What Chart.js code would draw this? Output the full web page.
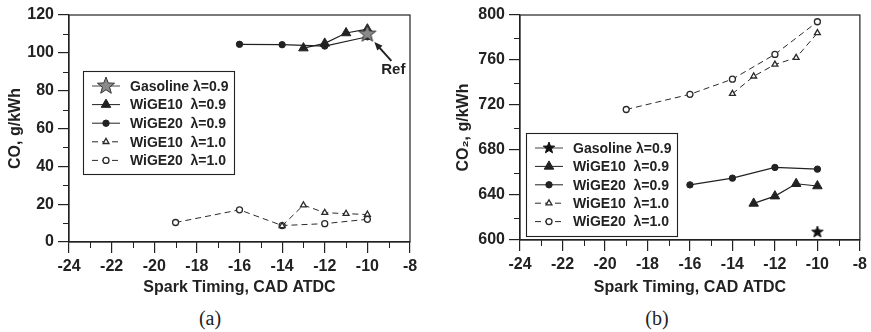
<!DOCTYPE html>
<html>
<head>
<meta charset="utf-8">
<script src="https://cdn.jsdelivr.net/npm/chart.js@4.4.1/dist/chart.umd.min.js"></script>
<style>
  body { margin: 0; background: #fff; width: 871px; height: 332px; position: relative; overflow: hidden; }
  .wrap { position: absolute; top: 0; height: 300px; }
  #wrapA { left: 0; width: 436px; }
  #wrapB { left: 436px; width: 435px; }
  .cap { position: absolute; top: 307px; width: 60px; text-align: center; font: 20px "Liberation Serif", serif; color: #222; }
</style>
</head>
<body>
<div class="wrap" id="wrapA"><canvas id="chartA"></canvas></div>
<div class="wrap" id="wrapB"><canvas id="chartB"></canvas></div>
<div class="cap" style="left:180px">(a)</div>
<div class="cap" style="left:627px">(b)</div>
<script>
// series names
const seriesNames = ['Gasoline λ=0.9', 'WiGE10  λ=0.9', 'WiGE20  λ=0.9', 'WiGE10  λ=1.0', 'WiGE20  λ=1.0'];

// spark timing (CAD ATDC) per series
const xGas09 = [-10];
const xW10_09 = [-13, -12, -11, -10];
const xW20_09 = [-16, -14, -12, -10];
const xW10_10 = [-14, -13, -12, -11, -10];
const xW20_10 = [-19, -16, -14, -12, -10];

// CO, g/kWh
const coGas09 = [110];
const coW10_09 = [102.5, 105, 110.5, 112.5];
const coW20_09 = [104.5, 104.3, 103.6, 108.5];
const coW10_10 = [8.5, 19.5, 15.5, 15, 14.5];
const coW20_10 = [10.3, 17, 8.7, 9.7, 12];

// CO2, g/kWh
const co2Gas09 = [607];
const co2W10_09 = [632.5, 639, 650, 648];
const co2W20_09 = [649, 655, 664.5, 663];
const co2W10_10 = [730, 745.5, 756, 762, 784];
const co2W20_10 = [716, 729.5, 743, 765, 794];

const ink = '#222';
const font = '"Liberation Sans", Arial, sans-serif';

function makeStar(r, fill, stroke) {
    const c = document.createElement('canvas');
    const s = Math.ceil(r * 2 + 4);
    c.width = s; c.height = s;
    const g = c.getContext('2d');
    g.beginPath();
    for (let i = 0; i < 10; i++) {
        const rad = i % 2 === 0 ? r : r * 0.42;
        const a = -Math.PI / 2 + i * Math.PI / 5;
        const px = s / 2 + rad * Math.cos(a);
        const py = s / 2 + rad * Math.sin(a);
        if (i === 0) g.moveTo(px, py); else g.lineTo(px, py);
    }
    g.closePath();
    g.fillStyle = fill;
    g.fill();
    g.strokeStyle = stroke;
    g.lineWidth = 1;
    g.stroke();
    return c;
}

function pts(xs, ys) {
    return xs.map((x, i) => ({ x: x, y: ys[i] }));
}

function buildDatasets(ys, starImg, starR) {
    return [
        { label: seriesNames[0], data: pts(xGas09, ys[0]), pointStyle: starImg, showLine: false,
          borderColor: '#444', backgroundColor: '#888', pointRadius: starR },
        { label: seriesNames[1], data: pts(xW10_09, ys[1]), pointStyle: 'triangle', pointRadius: 5.5,
          borderColor: ink, backgroundColor: ink, borderWidth: 1.2, pointBorderWidth: 1 },
        { label: seriesNames[2], data: pts(xW20_09, ys[2]), pointStyle: 'circle', pointRadius: 3.2,
          borderColor: ink, backgroundColor: ink, borderWidth: 1.2, pointBorderWidth: 1 },
        { label: seriesNames[3], data: pts(xW10_10, ys[3]), pointStyle: 'triangle', pointRadius: 3.4,
          borderColor: '#2a2a2a', backgroundColor: '#fff', borderWidth: 1, pointBorderWidth: 1.3, borderDash: [6, 4] },
        { label: seriesNames[4], data: pts(xW20_10, ys[4]), pointStyle: 'circle', pointRadius: 3,
          borderColor: '#2a2a2a', backgroundColor: '#fff', borderWidth: 1, pointBorderWidth: 1.3, borderDash: [6, 4] }
    ];
}

// frame, minor ticks, inside legend and "Ref" note
const decorPlugin = {
    id: 'decor',
    afterDraw(chart, args, opts) {
        const ctx = chart.ctx;
        const a = chart.chartArea;
        ctx.save();
        ctx.strokeStyle = ink;
        ctx.lineWidth = 1.2;
        ctx.strokeRect(a.left, a.top, a.right - a.left, a.bottom - a.top);

        // minor ticks
        ctx.lineWidth = 1;
        const xs = chart.scales.x, ys = chart.scales.y;
        for (let v = xs.min; v <= xs.max; v += opts.minorX) {
            if (Math.abs(v % xs.options.ticks.stepSize) < 1e-6) continue;
            const px = Math.round(xs.getPixelForValue(v)) + 0.5;
            ctx.beginPath(); ctx.moveTo(px, a.bottom); ctx.lineTo(px, a.bottom + 6); ctx.stroke();
        }
        for (let v = ys.min; v <= ys.max; v += opts.minorY) {
            if (Math.abs((v - ys.min) % ys.options.ticks.stepSize) < 1e-6) continue;
            const py = Math.round(ys.getPixelForValue(v)) + 0.5;
            ctx.beginPath(); ctx.moveTo(a.left, py); ctx.lineTo(a.left - 6, py); ctx.stroke();
        }

        // legend box
        const L = opts.legend;
        const bx = a.left + L.dx, by = a.top + L.dy;
        ctx.fillStyle = '#fff';
        ctx.fillRect(bx, by, L.w, L.h);
        ctx.strokeStyle = ink;
        ctx.lineWidth = 1.1;
        ctx.strokeRect(bx + 0.5, by + 0.5, L.w, L.h);
        ctx.font = 'bold 14px ' + font;
        ctx.textBaseline = 'middle';
        chart.data.datasets.forEach((ds, i) => {
            const ry = by + 15 + i * L.rowH;
            ctx.save();
            ctx.strokeStyle = ds.borderColor;
            ctx.lineWidth = 1;
            ctx.setLineDash(ds.borderDash || []);
            ctx.beginPath(); ctx.moveTo(bx + 9, ry); ctx.lineTo(bx + 37, ry); ctx.stroke();
            ctx.setLineDash([]);
            ctx.fillStyle = ds.backgroundColor;
            ctx.strokeStyle = ds.borderColor;
            ctx.lineWidth = ds.pointBorderWidth || 1;
            Chart.helpers.drawPoint(ctx, { pointStyle: i === 0 ? L.star : ds.pointStyle,
                radius: ds.pointRadius, rotation: 0, borderWidth: ds.pointBorderWidth || 1 }, bx + 23, ry);
            ctx.restore();
            ctx.fillStyle = ink;
            ctx.fillText(ds.label, bx + 47, ry + 1);
        });

        // Ref arrow
        if (opts.ref) {
            const sx = xs.getPixelForValue(xGas09[0]);
            const sy = ys.getPixelForValue(coGas09[0]);
            const tipX = sx + 7, tipY = sy + 8, tailX = sx + 24, tailY = sy + 27;
            ctx.strokeStyle = ink; ctx.fillStyle = ink; ctx.lineWidth = 2;
            ctx.beginPath(); ctx.moveTo(tailX, tailY); ctx.lineTo(tipX + 3, tipY + 3.5); ctx.stroke();
            const ang = Math.atan2(tipY - tailY, tipX - tailX);
            ctx.beginPath();
            ctx.moveTo(tipX, tipY);
            ctx.lineTo(tipX - 9 * Math.cos(ang - 0.4), tipY - 9 * Math.sin(ang - 0.4));
            ctx.lineTo(tipX - 9 * Math.cos(ang + 0.4), tipY - 9 * Math.sin(ang + 0.4));
            ctx.closePath(); ctx.fill();
            ctx.font = 'bold 15px ' + font;
            ctx.textAlign = 'center';
            ctx.fillText('Ref', sx + 26, sy + 36);
        }
        ctx.restore();
    }
};

function makeChart(id, datasets, yCfg, yTitle, yWidth, xHeight, padRight, decor) {
    return new Chart(document.getElementById(id), {
        type: 'line',
        data: { datasets: datasets },
        plugins: [decorPlugin],
        options: {
            responsive: true,
            maintainAspectRatio: false,
            animation: false,
            layout: { padding: { left: 0, right: padRight, top: 15, bottom: 0 } },
            plugins: { legend: { display: false }, tooltip: { enabled: false }, decor: decor },
            scales: {
                x: {
                    type: 'linear', min: -24, max: -8,
                    ticks: { stepSize: 2, color: ink, padding: 4, font: { family: font, size: 16, weight: 'bold' } },
                    grid: { drawOnChartArea: false, tickLength: 11, color: ink, lineWidth: 1.2 },
                    border: { color: ink, width: 1.2 },
                    title: { display: true, text: 'Spark Timing, CAD ATDC', color: ink,
                             font: { family: font, size: 16, weight: 'bold' }, padding: { top: 0, bottom: 3 } },
                    afterFit(scale) { scale.height = xHeight; }
                },
                y: {
                    min: yCfg.min, max: yCfg.max,
                    ticks: { stepSize: yCfg.step, color: ink, padding: 4, font: { family: font, size: 16, weight: 'bold' } },
                    grid: { drawOnChartArea: false, tickLength: 11, color: ink, lineWidth: 1.2 },
                    border: { color: ink, width: 1.2 },
                    title: { display: true, text: yTitle, color: ink,
                             font: { family: font, size: 16, weight: 'bold' }, padding: { top: yCfg.titlePad, bottom: 0 } },
                    afterFit(scale) { scale.width = yWidth; }
                }
            }
        }
    });
}

const starA = makeStar(9, '#8a8a8a', '#333');
const starB = makeStar(6, '#111', '#111');

makeChart('chartA', buildDatasets([coGas09, coW10_09, coW20_09, coW10_10, coW20_10], starA, 9),
    { min: 0, max: 120, step: 20, titlePad: 6 }, 'CO, g/kWh', 69, 58, 26,
    { minorX: 1, minorY: 10, ref: true,
      legend: { dx: 14, dy: 56, w: 151, h: 103, rowH: 18.6, star: starA } });

makeChart('chartB', buildDatasets([co2Gas09, co2W10_09, co2W20_09, co2W10_10, co2W20_10], starB, 6),
    { min: 600, max: 800, step: 40, titlePad: 18 }, 'CO₂, g/kWh', 84, 60, 11,
    { minorX: 1, minorY: 20, ref: false,
      legend: { dx: 6, dy: 118, w: 151, h: 103, rowH: 18.4, star: starB } });
</script>
</body>
</html>
